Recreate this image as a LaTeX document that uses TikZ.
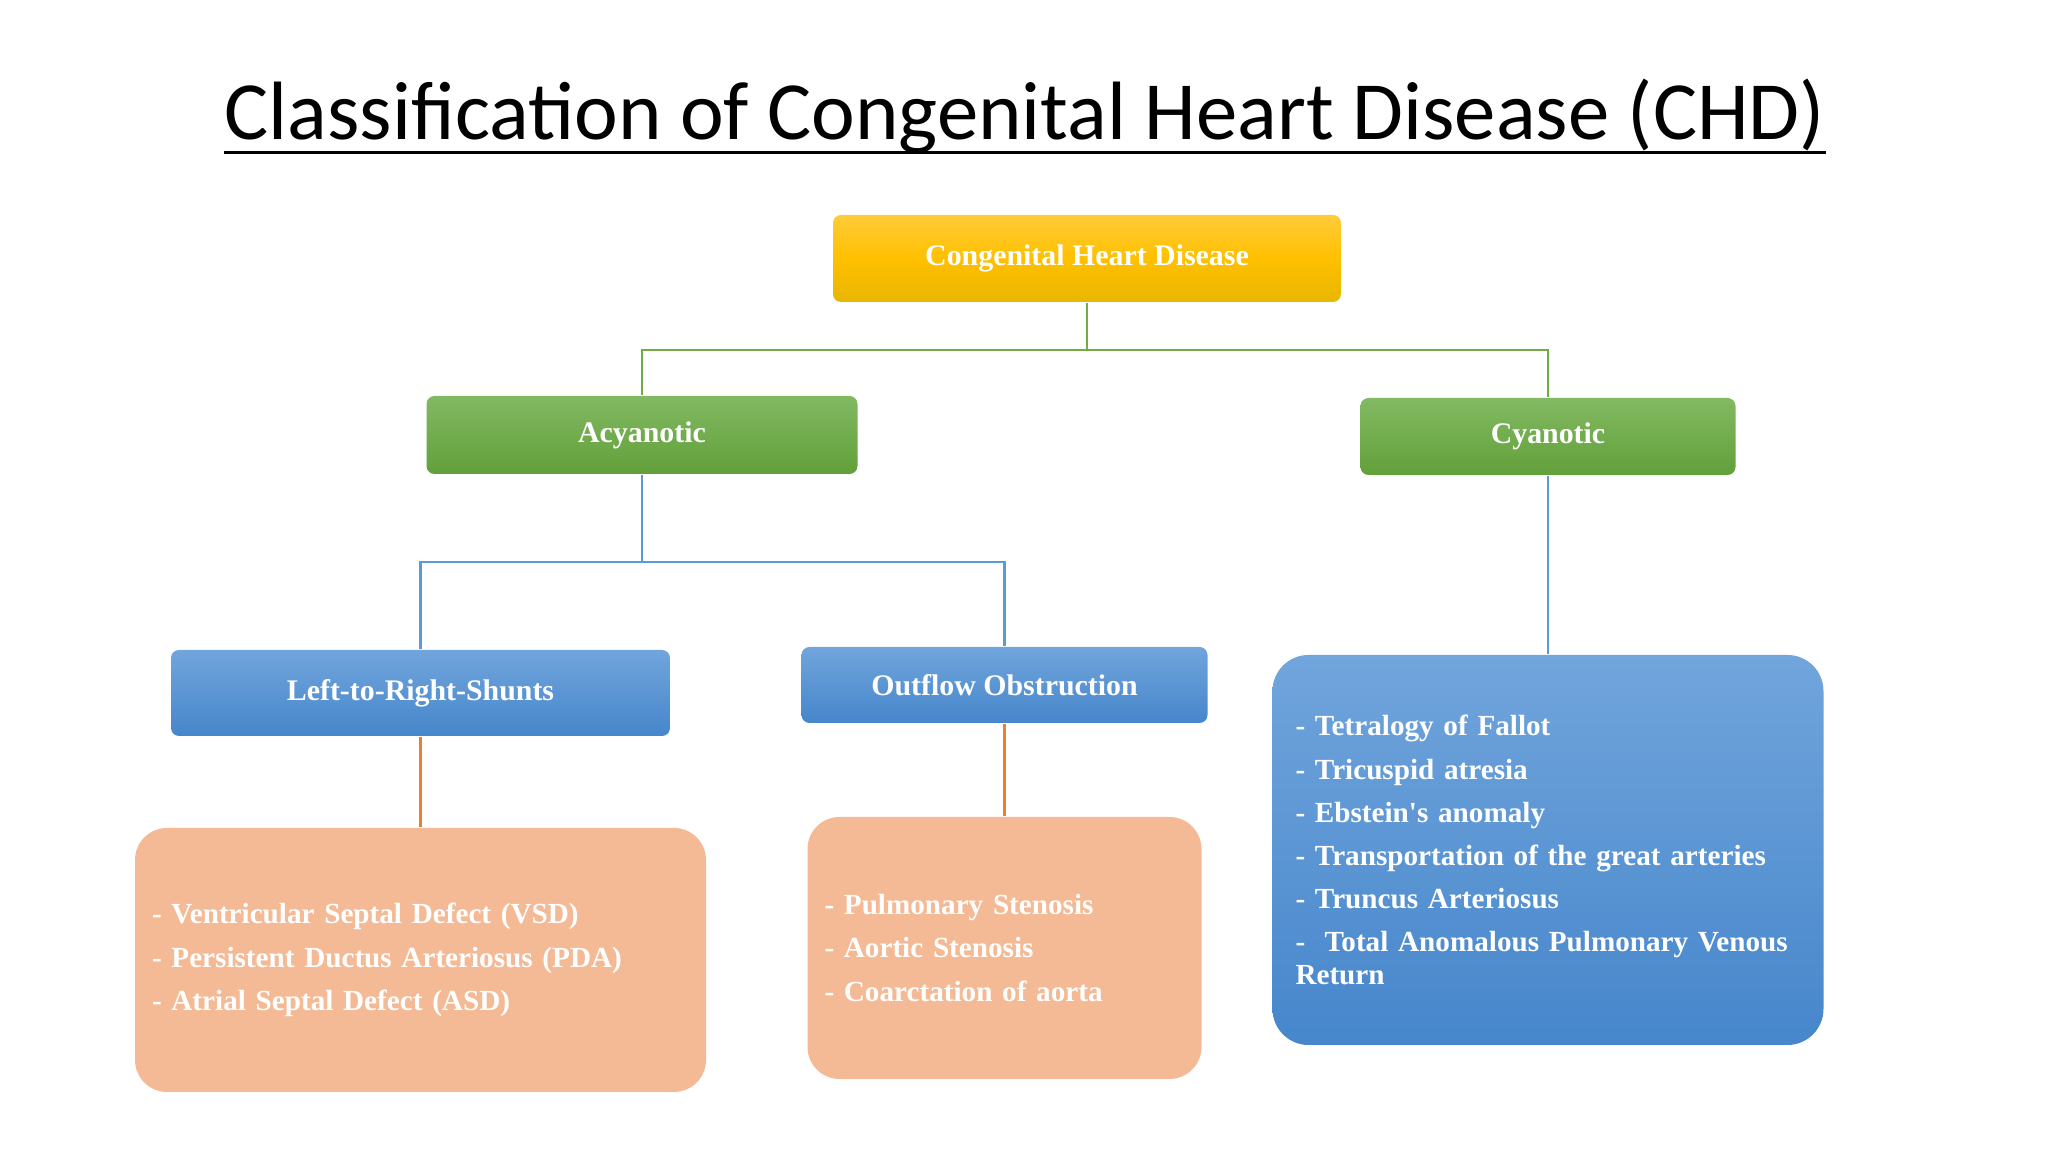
\documentclass[tikz,border=0pt]{standalone}
\usepackage{fontspec}
\setmainfont{Liberation Serif}
\newfontfamily\titlefont{Carlito}
\usepackage{tikz}
\usetikzlibrary{calc}
\definecolor{goldtop}{HTML}{FFCB3A}
\definecolor{goldmid}{HTML}{FFC000}
\definecolor{goldbot}{HTML}{E8B600}
\definecolor{greentop}{HTML}{82B962}
\definecolor{greenbot}{HTML}{62A03A}
\definecolor{bluetop}{HTML}{71A5DC}
\definecolor{bluebot}{HTML}{4686CB}
\definecolor{peach}{HTML}{F4BA95}
\definecolor{greenln}{HTML}{70AD47}
\definecolor{blueln}{HTML}{5B9BD5}
\definecolor{orangeln}{HTML}{ED7D31}
\newcommand{\straightq}{{\addfontfeatures{Ligatures=TeXOff}'}}
\tikzset{
  boxtext/.style={text=white, font=\bfseries\fontsize{8.5}{9.2}\selectfont},
  listtext/.style={text=white, font=\bfseries\fontsize{8.3}{9.2}\selectfont, align=left},
  headbox/.style={boxtext, rounded corners=0.08cm, inner sep=0pt},
  goldbox/.style={headbox, top color=goldtop, bottom color=goldbot, middle color=goldmid},
  greenbox/.style={headbox, top color=greentop, bottom color=greenbot},
  bluebox/.style={headbox, top color=bluetop, bottom color=bluebot},
  peachlist/.style={listtext, fill=peach, rounded corners=0.32cm, inner xsep=0.17cm},
  bluelist/.style={listtext, top color=bluetop, bottom color=bluebot, rounded corners=0.36cm, inner xsep=0.23cm},
  greenline/.style={draw=greenln, line width=0.6pt},
  blueline/.style={draw=blueln, line width=0.6pt},
  orangeline/.style={draw=orangeln, line width=0.6pt}
}
\begin{document}
\begin{tikzpicture}
\useasboundingbox[fill=white] (0,0) rectangle (20.48,11.52);
\node[anchor=base, inner sep=0pt, font=\titlefont\fontsize{23.55}{26}\selectfont] (title) at (10.25,10.12) {Classification of Congenital Heart Disease (CHD)};
\draw[line width=0.85pt] ([yshift=-0.13cm]title.base west) -- ([yshift=-0.13cm]title.base east);

\node[goldbox, minimum width=5.08cm, minimum height=0.87cm] (chd) at (10.87,8.935) {Congenital Heart Disease};
\node[greenbox, minimum width=4.31cm, minimum height=0.78cm] (acy) at (6.42,7.17) {Acyanotic};
\node[greenbox, minimum width=3.75cm, minimum height=0.77cm] (cyan) at (15.48,7.155) {Cyanotic};
\node[bluebox, minimum width=4.99cm, minimum height=0.86cm] (lrs) at (4.205,4.59) {Left-to-Right-Shunts};
\node[bluebox, minimum width=4.06cm, minimum height=0.76cm] (out) at (10.045,4.67) {Outflow Obstruction};

\node[peachlist, text width=5.37cm, minimum height=2.64cm] (lrslist) at (4.205,1.92) {- Ventricular Septal Defect (VSD)\\[3.1pt] - Persistent Ductus Arteriosus (PDA)\\[3.1pt] - Atrial Septal Defect (ASD)};
\node[peachlist, text width=3.60cm, minimum height=2.62cm] (outlist) at (10.045,2.04) {- Pulmonary Stenosis\\[3.1pt] - Aortic Stenosis\\[3.1pt] - Coarctation of aorta};
\node[bluelist, text width=5.05cm, minimum height=3.90cm] (cyanlist) at (15.48,3.02) {- Tetralogy of Fallot\\[3.1pt] - Tricuspid atresia\\[3.1pt] - Ebstein\straightq s anomaly\\[3.1pt] - Transportation of the great arteries\\[3.1pt] - Truncus Arteriosus\\[3.1pt] -\ \ Total Anomalous Pulmonary Venous\\ Return};

\coordinate (chdj) at ($(chd.south)+(0,-0.47)$);
\draw[greenline] (chd.south) -- (chdj) -| (acy.north);
\draw[greenline] (chdj) -| (cyan.north);
\coordinate (acyj) at ($(acy.south)+(0,-0.87)$);
\draw[blueline] (acy.south) -- (acyj) -| (lrs.north);
\draw[blueline] (acyj) -| (out.north);
\draw[blueline] (cyan.south) -- (cyanlist.north);
\draw[orangeline] (lrs.south) -- (lrslist.north);
\draw[orangeline] (out.south) -- (outlist.north);
\end{tikzpicture}
\end{document}
